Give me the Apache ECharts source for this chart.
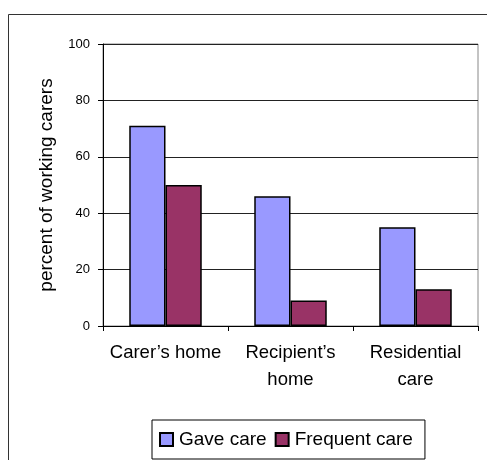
<!DOCTYPE html>
<html>
<head>
<meta charset="utf-8">
<script src="https://cdn.jsdelivr.net/npm/echarts@6/dist/echarts.min.js"></script>
<style>
  html, body { margin: 0; padding: 0; background: #fff; }
  #chart { width: 487px; height: 460px; }
</style>
</head>
<body>
<div id="chart"></div>
<script>
// Where care was given, by working carers
const categories = ['Carer’s home', 'Recipient’s\nhome', 'Residential\ncare'];
const gaveCare = [71, 46, 35];
const frequentCare = [50, 9, 13];
const yTicks = { min: 0, max: 100, interval: 20 };

const FONT = '"Liberation Sans", Arial, sans-serif';

const chart = echarts.init(document.getElementById('chart'), null, { renderer: 'canvas' });

chart.setOption({
  animation: false,
  backgroundColor: '#fff',
  textStyle: { fontFamily: FONT, color: '#000' },
  graphic: [{
    type: 'polyline',
    shape: { points: [[8.5, 470], [8.5, 14.5], [500, 14.5]] },
    style: { stroke: '#333', lineWidth: 1, fill: null },
    silent: true
  }],
  grid: {
    left: 103, right: 9, top: 44, bottom: 134,
    show: true, borderColor: '#888', borderWidth: 1
  },
  legend: {
    left: 152, top: 420,
    itemWidth: 13, itemHeight: 13, itemGap: 8,
    padding: [10, 12, 10, 7],
    borderColor: '#000', borderWidth: 1,
    icon: 'rect',
    textStyle: { fontFamily: FONT, fontSize: 19, color: '#000', padding: [0, 0, 0, 1] },
    data: ['Gave care', 'Frequent care']
  },
  xAxis: {
    type: 'category',
    data: categories,
    axisLine: { lineStyle: { color: '#000', width: 1 } },
    axisTick: { show: true, length: 5, lineStyle: { color: '#000' } },
    axisLabel: { fontFamily: FONT, fontSize: 18.5, color: '#000', lineHeight: 27, margin: 13, interval: 0 }
  },
  yAxis: {
    type: 'value',
    min: yTicks.min, max: yTicks.max, interval: yTicks.interval,
    name: 'percent of working carers',
    nameLocation: 'middle',
    nameGap: 47,
    nameTextStyle: { fontFamily: FONT, fontSize: 19, color: '#000' },
    axisLine: { show: true, lineStyle: { color: '#000', width: 1 } },
    axisTick: { show: true, length: 5, lineStyle: { color: '#000' } },
    axisLabel: { fontFamily: FONT, fontSize: 13, color: '#000', margin: 13 },
    splitLine: { show: true, lineStyle: { color: '#222', width: 1 } }
  },
  series: [
    {
      name: 'Gave care', type: 'bar', data: gaveCare,
      barGap: '0%', barCategoryGap: '42%',
      itemStyle: { color: '#9999FF', borderColor: '#000', borderWidth: 1.5 }
    },
    {
      name: 'Frequent care', type: 'bar', data: frequentCare,
      itemStyle: { color: '#993366', borderColor: '#000', borderWidth: 1.5 }
    }
  ]
});
</script>
</body>
</html>
